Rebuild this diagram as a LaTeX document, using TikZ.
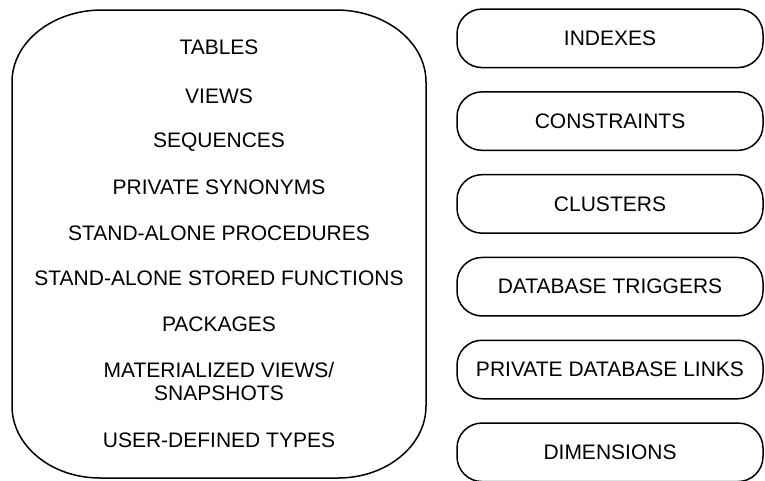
\documentclass[tikz,border=0pt]{standalone}
\usepackage{fontspec}
\setmainfont{Liberation Sans}
\begin{document}
\begin{tikzpicture}[x=1pt,y=-1pt,
  line width=1.5pt,
  lbl/.style={font=\fontsize{21}{25}\selectfont, inner sep=0pt, anchor=center},
  rbox/.style={draw, rounded corners=25pt, minimum width=306pt, minimum height=58.5pt, inner sep=0pt, font=\fontsize{21}{25}\selectfont}]
\useasboundingbox (0,0) rectangle (765,480);
% left big box with elliptical corners
\draw (12,406) -- (12,82) arc[start angle=180, end angle=270, x radius=90, y radius=72]
  -- (336,10) arc[start angle=270, end angle=360, x radius=90, y radius=72]
  -- (426,406) arc[start angle=0, end angle=90, x radius=88, y radius=72]
  -- (100,478) arc[start angle=90, end angle=180, x radius=88, y radius=72] -- cycle;
\node[lbl] (t1) at (219,47) {TABLES};
\node[lbl] (t2) at (219,96) {VIEWS};
\node[lbl] (t3) at (219,142) {SEQUENCES};
\node[lbl] (t4) at (219,187.5) {PRIVATE SYNONYMS};
\node[lbl] (t5) at (219,233) {STAND-ALONE PROCEDURES};
\node[lbl] (t6) at (219,278.5) {STAND-ALONE STORED FUNCTIONS};
\node[lbl] (t7) at (219,324) {PACKAGES};
\node[lbl] (t8) at (219,370) {MATERIALIZED VIEWS/};
\node[lbl] (t9) at (219,393) {SNAPSHOTS};
\node[lbl] (t10) at (219,440) {USER-DEFINED TYPES};
% right boxes
\node[rbox] (r1) at (610,38.3) {INDEXES};
\node[rbox] (r2) at (610,121.1) {CONSTRAINTS};
\node[rbox] (r3) at (610,203.9) {CLUSTERS};
\node[rbox] (r4) at (610,286.7) {DATABASE TRIGGERS};
\node[rbox] (r5) at (610,369.5) {PRIVATE DATABASE LINKS};
\node[rbox] (r6) at (610,452.3) {DIMENSIONS};
\end{tikzpicture}
\end{document}
